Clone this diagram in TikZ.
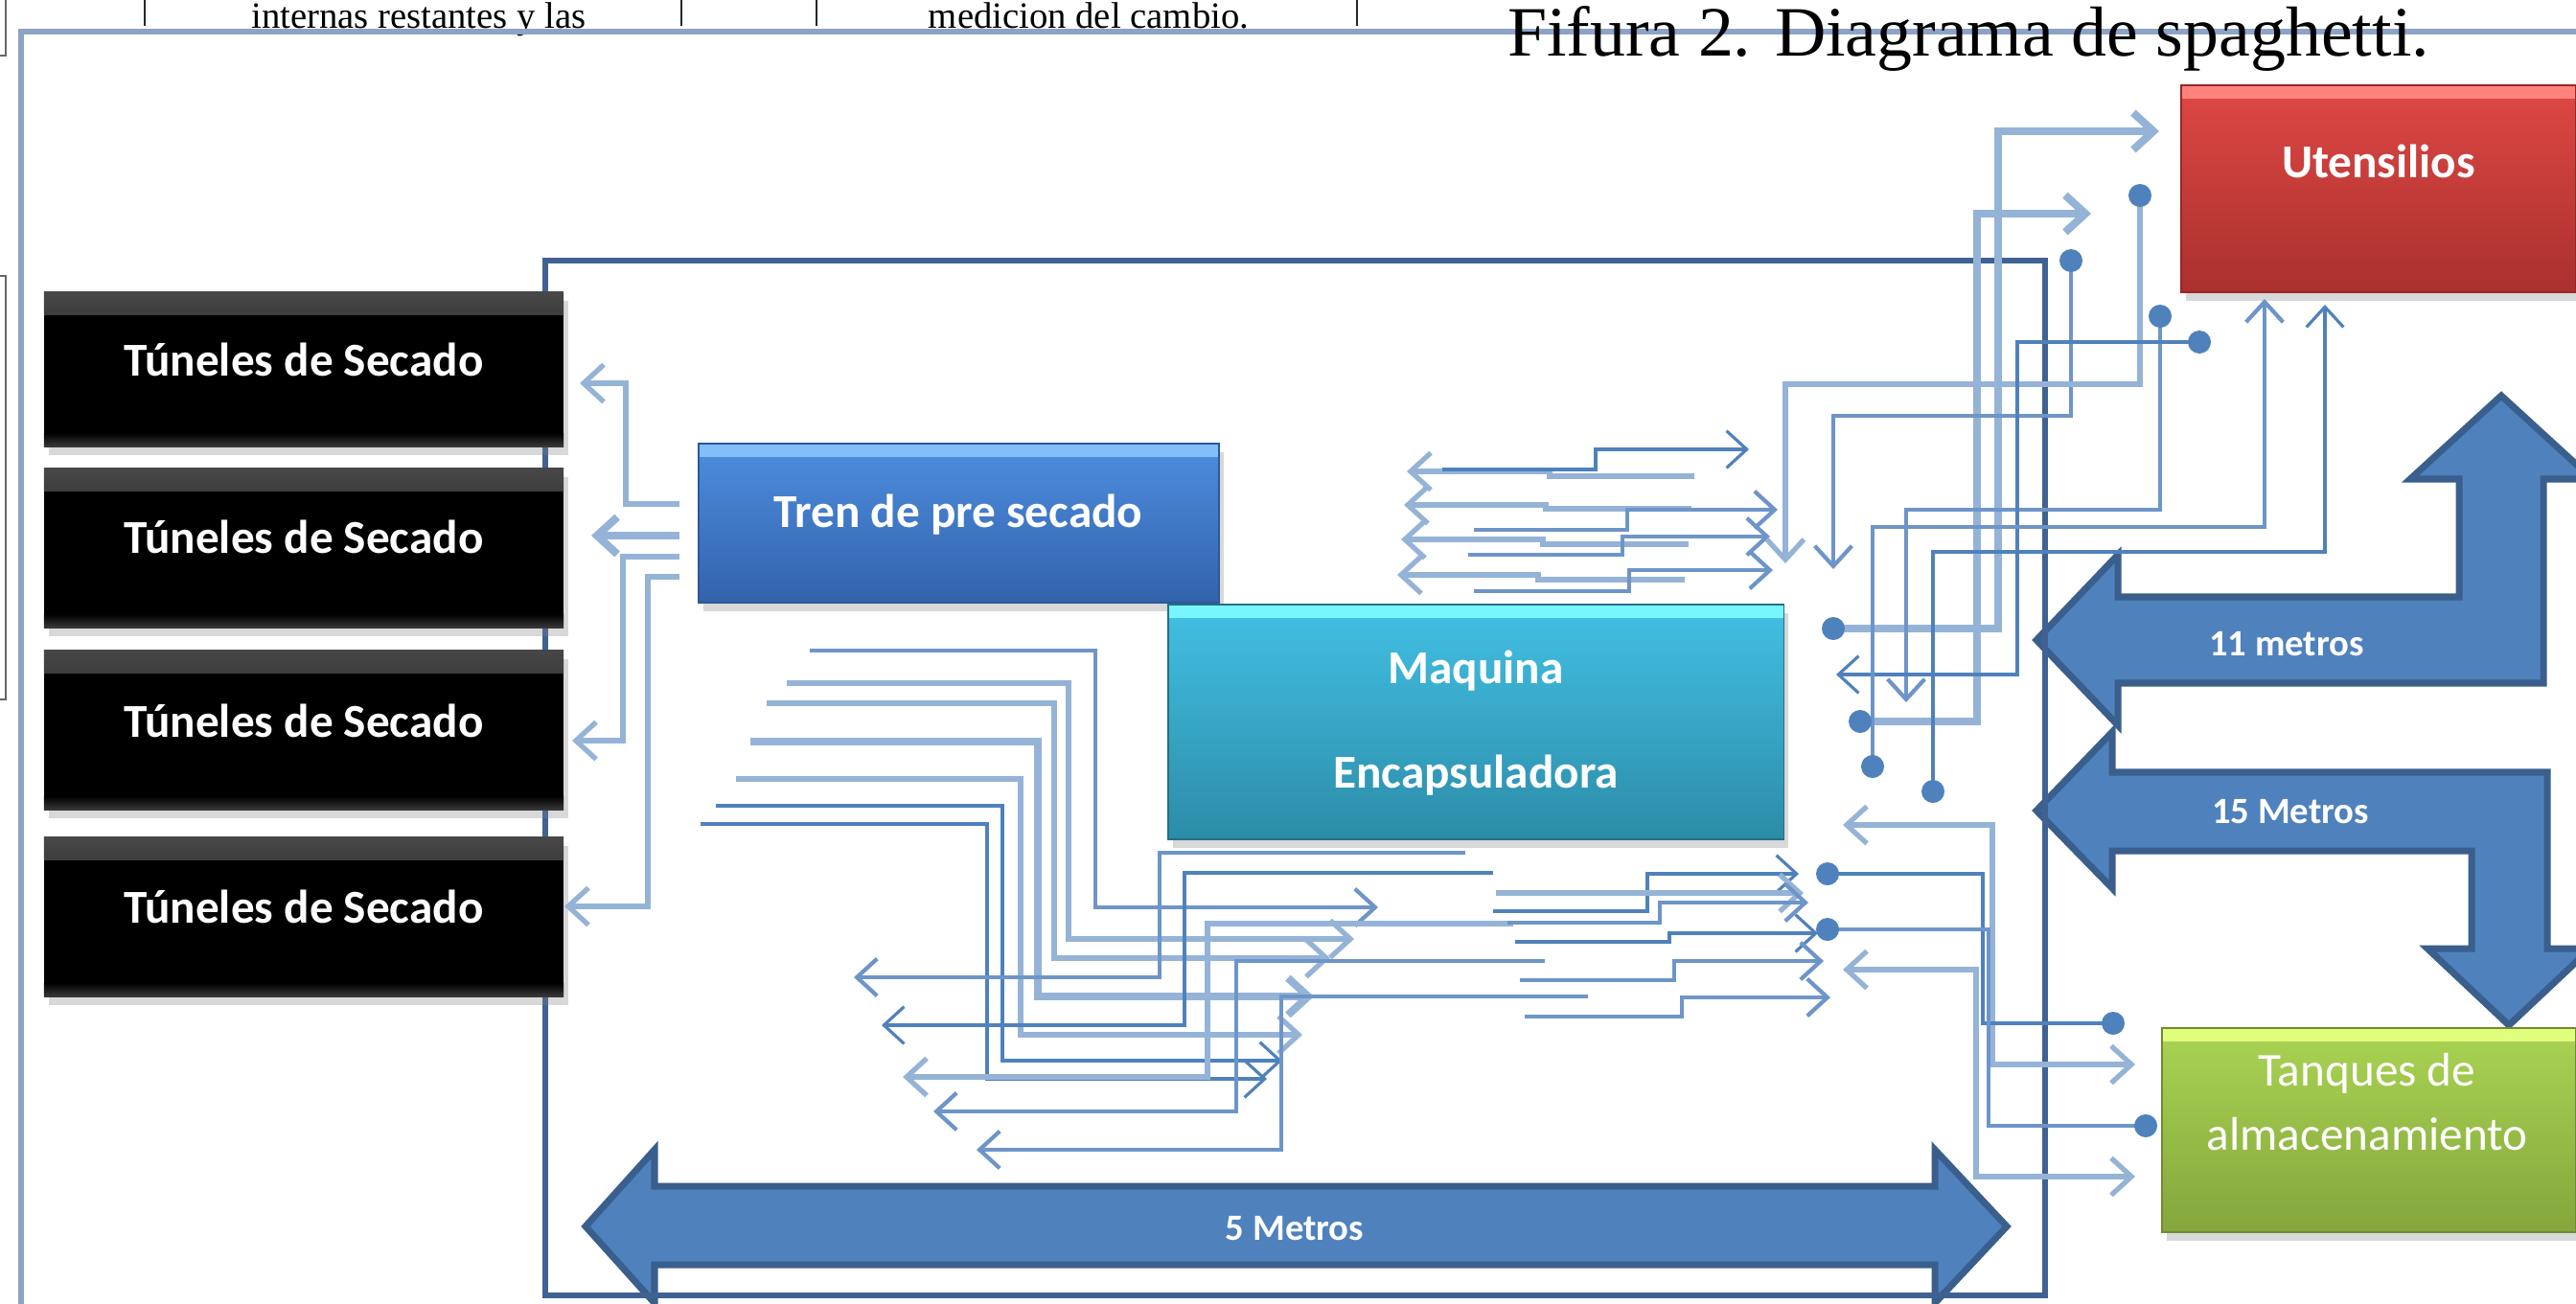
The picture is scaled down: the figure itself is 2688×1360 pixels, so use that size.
\documentclass[tikz,border=0pt]{standalone}
\usepackage{fontspec}
\setmainfont{Liberation Serif}
\newfontfamily\carl{Carlito}
\usetikzlibrary{arrows.meta,shadows}
\definecolor{dk}{HTML}{4F81BD}
\definecolor{lt}{HTML}{95B3D7}
\definecolor{md}{HTML}{6E95C8}
\definecolor{frameb}{HTML}{3F6292}
\definecolor{slate}{HTML}{8CA3C5}
\definecolor{barf}{HTML}{4F81BD}
\definecolor{bard}{HTML}{3A5F8D}
\definecolor{trenT}{RGB}{78,142,222}
\definecolor{trenB}{RGB}{50,98,172}
\definecolor{trenD}{RGB}{46,88,150}
\definecolor{trenS}{RGB}{130,190,250}
\definecolor{maqT}{RGB}{66,192,228}
\definecolor{maqB}{RGB}{44,140,168}
\definecolor{maqD}{RGB}{40,110,130}
\definecolor{maqS}{RGB}{120,245,255}
\definecolor{uteT}{RGB}{222,72,68}
\definecolor{uteB}{RGB}{170,48,46}
\definecolor{uteD}{RGB}{150,40,40}
\definecolor{uteS}{RGB}{255,130,125}
\definecolor{tanT}{RGB}{170,212,84}
\definecolor{tanB}{RGB}{132,166,60}
\definecolor{tanD}{RGB}{110,140,50}
\definecolor{tanS}{RGB}{225,255,125}
\tikzset{
 vb/.tip={Straight Barb[length=6pt,width=11pt]},
 dline/.style={draw=dk,line width=0.9pt},
 mline/.style={draw=md,line width=1.2pt},
 lline/.style={draw=lt,line width=1.5pt},
 tline/.style={draw=lt,line width=2.3pt},
 bx/.style={inner sep=0pt,outer sep=0pt,drop shadow={shadow xshift=1.5pt,shadow yshift=-2.5pt,opacity=0.3}},
 strip/.style={path picture={\fill[#1] (path picture bounding box.north west) rectangle ([yshift=-0.14cm]path picture bounding box.north east);}},
 tun/.style={bx,fill=black,minimum width=5.42cm,path picture={\shade[top color=black!72,bottom color=black] (path picture bounding box.north west) rectangle ([yshift=-0.24cm]path picture bounding box.north east); \shade[top color=black,bottom color=black!78] ([yshift=0.14cm]path picture bounding box.south west) rectangle (path picture bounding box.south east);}},
 lbl/.style={text=white,font=\carl\bfseries\fontsize{14}{17}\selectfont,inner sep=0pt,anchor=base},
 lblr/.style={text=white,font=\carl\fontsize{14}{17}\selectfont,inner sep=0pt,anchor=base},
 alb/.style={text=white,font=\carl\bfseries\fontsize{11}{13}\selectfont,inner sep=0pt,anchor=base},
 barrow/.style={fill=barf,draw=bard,line width=2pt,line join=miter},
 tabtext/.style={anchor=base,font=\fontsize{11}{13}\selectfont,inner sep=0pt},
}
\begin{document}
\begin{tikzpicture}[x=0.01cm,y=-0.01cm]
\useasboundingbox (0,0) rectangle (2688,1360);
\clip (0,0) rectangle (2688,1360);
\fill[white] (0,0) rectangle (2688,1360);

% table fragment at top
\foreach \xx in {151,711,852,1416} \draw[black!85,line width=0.8pt] (\xx,0) -- (\xx,27);
\node[tabtext] (tx1) at (437,29) {internas restantes y las};
\node[tabtext] (tx2) at (1136,29) {medicion del cambio.};
\draw[black!60,line width=0.8pt] (6,0) -- (6,58) -- (0,58);
\draw[black!60,line width=0.8pt] (0,288) -- (6,288) -- (6,730) -- (0,730);

% outer frame
\draw[slate,line width=1.7pt] (22,1365) -- (22,33) -- (2700,33);

% block arrows
\draw[barrow] (2125,668) -- (2210,579) -- (2210,623) -- (2566,623) -- (2566,500) -- (2515,500) -- (2610,413) -- (2705,500) -- (2654,500) -- (2654,713) -- (2210,713) -- (2210,757) -- cycle;
\draw[barrow] (2125,846) -- (2204,764) -- (2204,806) -- (2658,806) -- (2658,990) -- (2703,990) -- (2618,1070) -- (2533,990) -- (2579,990) -- (2579,888) -- (2204,888) -- (2204,927) -- cycle;
\draw[barrow] (611,1280) -- (683,1200) -- (683,1238) -- (2019,1238) -- (2019,1200) -- (2094,1280) -- (2019,1360) -- (2019,1320) -- (683,1320) -- (683,1360) -- cycle;

% plant frame
\draw[frameb,line width=1.8pt] (569,272) rectangle (2134,1352);

% boxes
\node[tun,minimum height=1.61cm] (t1) at (317,385.5) {};
\node[tun,minimum height=1.66cm] (t2) at (317,572) {};
\node[tun,minimum height=1.66cm] (t3) at (317,762) {};
\node[tun,minimum height=1.66cm] (t4) at (317,957) {};
\node[bx,top color=trenT,bottom color=trenB,draw=trenD,strip=trenS,minimum width=5.43cm,minimum height=1.66cm] (tren) at (1000.5,546) {};
\node[bx,top color=maqT,bottom color=maqB,draw=maqD,strip=maqS,minimum width=6.42cm,minimum height=2.45cm] (maq) at (1540,753.5) {};
\node[bx,top color=uteT,bottom color=uteB,draw=uteD,strip=uteS,minimum width=4.12cm,minimum height=2.16cm] (ute) at (2482,197) {};
\node[bx,top color=tanT,bottom color=tanB,draw=tanD,strip=tanS,minimum width=4.32cm,minimum height=2.13cm] (tan) at (2472,1179.5) {};

% A: tren -> tuneles
\draw[lline,-vb] (709,526) -- (653,526) -- (653,400) -- (605,400);
\draw[tline,-vb] (709,559) -- (617,559);
\draw[lline,-vb] (709,581) -- (650,581) -- (650,773) -- (597,773);
\draw[lline,-vb] (709,602) -- (676,602) -- (676,946) -- (589,946);

% B: upper middle cluster
\draw[lline,-vb] (1768,497) -- (1617,497) -- (1617,492) -- (1468,492);
\draw[lline,-vb] (1765,531) -- (1613,531) -- (1613,527) -- (1465,527);
\draw[lline,-vb] (1762,568) -- (1610,568) -- (1610,563) -- (1462,563);
\draw[lline,-vb] (1758,605) -- (1605,605) -- (1605,600) -- (1458,600);
\draw[dline,-vb] (1505,490) -- (1665,490) -- (1665,469) -- (1825,469);
\draw[mline,-vb] (1538,553) -- (1698,553) -- (1698,532) -- (1855,532);
\draw[mline,-vb] (1532,579) -- (1693,579) -- (1693,560) -- (1847,560);
\draw[mline,-vb] (1538,617) -- (1700,617) -- (1700,595) -- (1850,595);

% C: right upper group
\draw[tline,-vb] (1913,656) -- (2085,656) -- (2085,137) -- (2253,137);
\draw[tline,-vb] (1941,753) -- (2063,753) -- (2063,223) -- (2182,223);
\draw[mline,-vb] (2161,272) -- (2161,434) -- (1913,434) -- (1913,594);
\draw[lline,-vb] (2233,204) -- (2233,401) -- (1863,401) -- (1863,588);
\draw[mline,-vb] (2254,330) -- (2254,532) -- (1989,532) -- (1989,733);
\draw[dline,-vb] (2295,357) -- (2105,357) -- (2105,704) -- (1916,704);
\draw[mline,-vb] (1954,800) -- (1954,550) -- (2363,550) -- (2363,312);
\draw[dline,-vb] (2017,826) -- (2017,576) -- (2426,576) -- (2426,318);

% D: to tanques
\draw[lline,vb-vb] (1923,861) -- (2079,861) -- (2079,1111) -- (2228,1111);
\draw[dline] (1907,912) -- (2069,912) -- (2069,1068) -- (2205,1068);
\draw[mline] (1907,970) -- (2075,970) -- (2075,1175) -- (2239,1175);
\draw[lline,vb-vb] (1923,1012) -- (2062,1012) -- (2062,1228) -- (2228,1228);

% E: lower cluster, from left
\draw[mline,-vb] (845,679) -- (1143,679) -- (1143,947) -- (1438,947);
\draw[lline,-vb] (821,713) -- (1115,713) -- (1115,980) -- (1413,980);
\draw[lline,-vb] (800,734) -- (1100,734) -- (1100,1000) -- (1388,1000);
\draw[tline,-vb] (783,774) -- (1083,774) -- (1083,1040) -- (1371,1040);
\draw[lline,-vb] (768,813) -- (1065,813) -- (1065,1080) -- (1359,1080);
\draw[dline,-vb] (747,841) -- (1046,841) -- (1046,1107) -- (1338,1107);
\draw[dline,-vb] (731,860) -- (1030,860) -- (1030,1126) -- (1322,1126);
% from right going left
\draw[mline,-vb] (1529,890) -- (1210,890) -- (1210,1020) -- (891,1020);
\draw[dline,-vb] (1558,911) -- (1236,911) -- (1236,1070) -- (920,1070);
\draw[lline,-vb] (1579,964) -- (1260,964) -- (1260,1124) -- (942,1124);
\draw[mline,-vb] (1612,1003) -- (1290,1003) -- (1290,1160) -- (974,1160);
\draw[mline,-vb] (1657,1040) -- (1337,1040) -- (1337,1200) -- (1019,1200);
% right part
\draw[dline,-vb] (1558,951) -- (1719,951) -- (1719,912) -- (1877,912);
\draw[lline,-vb] (1561,932) -- (1882,932);
\draw[mline,-vb] (1573,963) -- (1732,963) -- (1732,942) -- (1887,942);
\draw[dline,-vb] (1581,983) -- (1742,983) -- (1742,974) -- (1897,974);
\draw[mline,-vb] (1586,1023) -- (1747,1023) -- (1747,1003) -- (1903,1003);
\draw[mline,-vb] (1591,1061) -- (1755,1061) -- (1755,1041) -- (1910,1041);

% dots
\foreach \p in {(1913,656),(1941,753),(2161,272),(2233,204),(2254,330),(2295,357),(1954,800),(2017,826),(1907,912),(2205,1068),(1907,970),(2239,1175)}
  \fill[dk] \p circle[radius=12];

% labels
\foreach \yy in {392,577,769,963} \node[lbl] at (317,\yy) {Túneles de Secado};
\node[lbl] at (1000,550) {Tren de pre secado};
\node[lbl] at (1540,713) {Maquina};
\node[lbl] at (1540,822) {Encapsuladora};
\node[lbl] at (2482,185) {Utensilios};
\node[lblr] at (2470,1133) {Tanques de};
\node[lblr] at (2470,1200) {almacenamiento};
\node[alb] at (2386,684) {11 metros};
\node[alb] at (2390,859) {15 Metros};
\node[alb] at (1351,1294) {5 Metros};

% title
\node[anchor=base,font=\fontsize{21}{24}\selectfont,inner sep=0pt] (title) at (2054,58) {Fifura 2. Diagrama de spaghetti.};
\end{tikzpicture}
\end{document}
